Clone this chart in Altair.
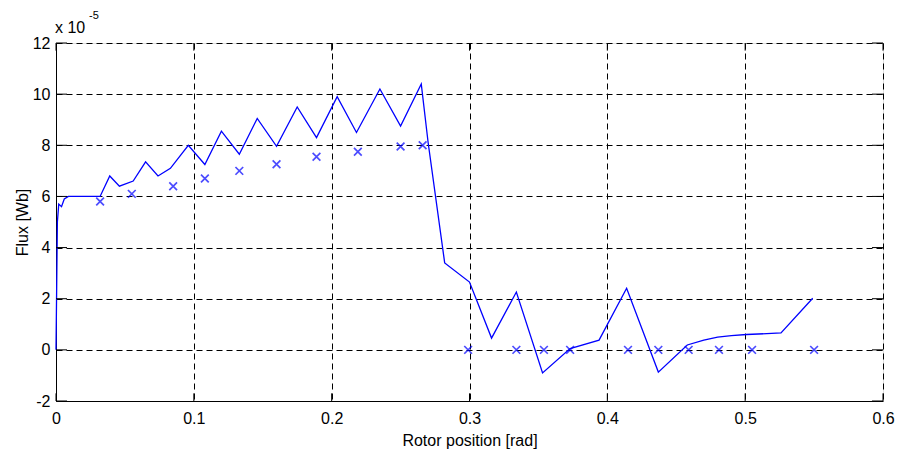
import altair as alt
import pandas as pd

# Line: rotor position [rad] vs flux [x1e-5 Wb]
line_x = [0.0, 0.001, 0.002, 0.004, 0.006, 0.009, 0.032, 0.039, 0.046, 0.056, 0.065, 0.074,
          0.083, 0.096, 0.108, 0.120, 0.133, 0.146, 0.160, 0.175, 0.189, 0.204, 0.218,
          0.235, 0.250, 0.265, 0.270, 0.282, 0.300, 0.316, 0.334, 0.353, 0.373, 0.394,
          0.414, 0.437, 0.458, 0.470, 0.480, 0.490, 0.501, 0.526, 0.549]
line_y = [0.0, 5.0, 5.7, 5.6, 5.9, 6.0, 6.0, 6.8, 6.4, 6.6, 7.35, 6.8,
          7.1, 8.0, 7.25, 8.55, 7.65, 9.05, 7.96, 9.5, 8.3, 9.9, 8.5,
          10.2, 8.75, 10.4, 8.1, 3.4, 2.65, 0.46, 2.26, -0.9, 0.05, 0.38,
          2.41, -0.87, 0.19, 0.38, 0.5, 0.56, 0.6, 0.66, 2.02]

# Markers (x)
mark_x = [0.032, 0.055, 0.085, 0.108, 0.133, 0.160, 0.189, 0.219, 0.250, 0.266,
          0.299, 0.334, 0.354, 0.373, 0.415, 0.437, 0.459, 0.481, 0.505, 0.550]
mark_y = [5.8, 6.1, 6.4, 6.7, 7.0, 7.26, 7.55, 7.75, 7.95, 8.0,
          0.0, 0.0, 0.0, 0.0, 0.0, 0.0, 0.0, 0.0, 0.0, 0.0]

x_ticks = [0, 0.1, 0.2, 0.3, 0.4, 0.5, 0.6]
y_ticks = [-2, 0, 2, 4, 6, 8, 10, 12]

FONT = "Liberation Sans, Arial, sans-serif"
BLUE = "#0000ff"

line_df = pd.DataFrame({"x": line_x, "y": line_y, "i": range(len(line_x))})
mark_df = pd.DataFrame({"x": mark_x, "y": mark_y})
xt_df = pd.DataFrame({"t": x_ticks})
yt_df = pd.DataFrame({"t": y_ticks})

xs = alt.Scale(domain=[0, 0.6], nice=False, zero=False)
ys = alt.Scale(domain=[-2, 12], nice=False, zero=False)

x_axis = alt.Axis(values=x_ticks, grid=True, gridDash=[6, 4], gridColor="black",
                  gridOpacity=1, gridWidth=1, tickSize=0, labelPadding=9,
                  domainColor="black", labelColor="black", labelFont=FONT,
                  labelFontSize=16, title="Rotor position [rad]", titleFont=FONT,
                  titleFontSize=16, titleFontWeight="normal", titleColor="black",
                  titlePadding=6, format="~g", labelFlush=False)
y_axis = alt.Axis(values=y_ticks, grid=True, gridDash=[6, 4], gridColor="black",
                  gridOpacity=1, gridWidth=1, tickSize=0, labelPadding=6,
                  domainColor="black", labelColor="black", labelFont=FONT,
                  labelFontSize=16, title="Flux [Wb]", titleFont=FONT,
                  titleFontSize=16, titleFontWeight="normal", titleColor="black",
                  titlePadding=2, labelExpr="'' + datum.value", labelFlush=False)

base_line = alt.Chart(line_df).mark_line(color=BLUE, strokeWidth=1.3).encode(
    x=alt.X("x:Q", scale=xs, axis=x_axis),
    y=alt.Y("y:Q", scale=ys, axis=y_axis),
    order="i:Q",
)

markers = alt.Chart(mark_df).mark_point(
    shape="M-1,-1L1,1M-1,1L1,-1", filled=False, color=BLUE, strokeWidth=1.7, size=60
).encode(x=alt.X("x:Q", scale=xs), y=alt.Y("y:Q", scale=ys))

# inward ticks (MATLAB style), bottom/top and left/right
tick_len_y = 0.3
tick_len_x = 0.008
xt_bottom = alt.Chart(xt_df).mark_rule(color="black", strokeWidth=1).encode(
    x=alt.X("t:Q", scale=xs), y=alt.datum(-2), y2=alt.datum(-2 + tick_len_y))
xt_top = alt.Chart(xt_df).mark_rule(color="black", strokeWidth=1).encode(
    x=alt.X("t:Q", scale=xs), y=alt.datum(12), y2=alt.datum(12 - tick_len_y))
yt_left = alt.Chart(yt_df).mark_rule(color="black", strokeWidth=1).encode(
    y=alt.Y("t:Q", scale=ys), x=alt.datum(0), x2=alt.datum(tick_len_x))
yt_right = alt.Chart(yt_df).mark_rule(color="black", strokeWidth=1).encode(
    y=alt.Y("t:Q", scale=ys), x=alt.datum(0.6), x2=alt.datum(0.6 - tick_len_x))

mult = alt.Chart(pd.DataFrame({"a": [0]})).mark_text(
    text="x 10", font=FONT, fontSize=16, align="left", baseline="alphabetic", color="black"
).encode(x=alt.value(-1), y=alt.value(-10))
expo = alt.Chart(pd.DataFrame({"a": [0]})).mark_text(
    text="-5", font=FONT, fontSize=11, align="left", baseline="alphabetic", color="black"
).encode(x=alt.value(33), y=alt.value(-24))

chart = alt.layer(base_line, markers, xt_bottom, xt_top, yt_left, yt_right, mult, expo).properties(
    width=827, height=358,
    autosize=alt.AutoSizeParams(type="none"),
    padding={"left": 48, "top": 35, "right": 12, "bottom": 50},
).configure_view(stroke="black", strokeWidth=1).configure(background="white")

chart.save("out.html", embed_options={"renderer": "svg", "actions": False})
